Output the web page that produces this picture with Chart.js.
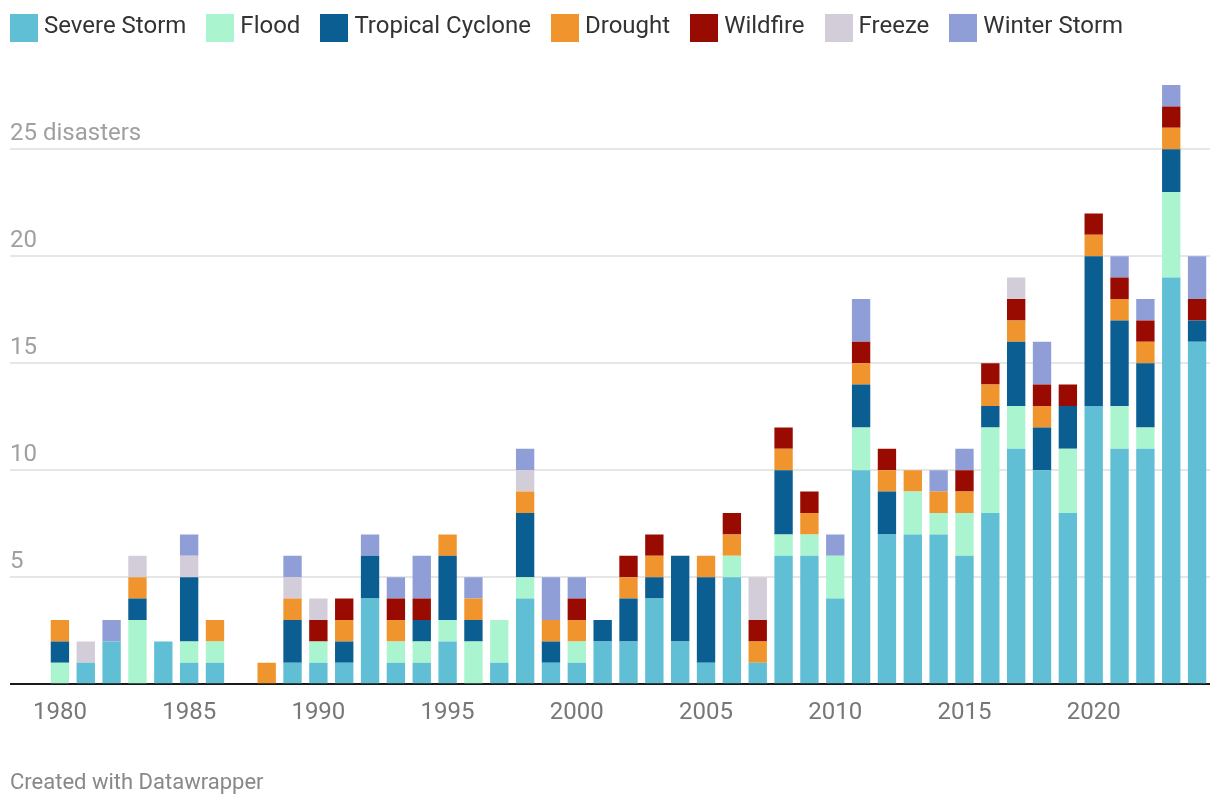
<!DOCTYPE html>
<html>
<head>
<meta charset="utf-8">
<script src="https://cdn.jsdelivr.net/npm/chart.js@4.4.1/dist/chart.umd.min.js"></script>
<style>
  html, body { margin: 0; padding: 0; background: #fff; }
  #wrap { position: relative; width: 1220px; height: 808px; overflow: hidden; font-family: Roboto, "Noto Sans", sans-serif; }
  #chart { position: absolute; left: 0; top: 0; }
  #legend { position: absolute; left: 10px; top: 0; display: flex; }
  .item { display: flex; align-items: flex-start; margin-right: 20px; }
  .box { width: 28px; height: 28px; margin-top: 14px; margin-right: 6px; }
  .lbl { font-size: 24px; line-height: 28px; margin-top: 11px; color: #333; white-space: nowrap; }
  #credit { position: absolute; left: 10px; top: 768px; font-size: 22px; line-height: 28px; color: #888; }
</style>
</head>
<body>
<div id="wrap">
  <canvas id="chart" width="1220" height="808"></canvas>
  <div id="legend"></div>
  <div id="credit">Created with Datawrapper</div>
</div>
<script>
const years = [];
for (let y = 1980; y <= 2024; y++) years.push(String(y));

const seriesNames = ["Severe Storm", "Flood", "Tropical Cyclone", "Drought", "Wildfire", "Freeze", "Winter Storm"];
const seriesColors = ["#60bed5", "#aaf5cf", "#0a5e92", "#f0952d", "#990b00", "#d2cdd9", "#909ed8"];

const severeStorm = [0,1,2,0,2,1,1,0,0,1, 1,1,4,1,1,2,0,1,4,1, 1,2,2,4,2,1,5,1,6,6, 4,10,7,7,7,6,8,11,10,8, 13,11,11,19,16];
const flood =       [1,0,0,3,0,1,1,0,0,0, 1,0,0,1,1,1,2,2,1,0, 1,0,0,0,0,0,1,0,1,1, 2,2,0,2,1,2,4,2,0,3, 0,2,1,4,0];
const tropicalCyclone = [1,0,0,1,0,3,0,0,0,2, 0,1,2,0,1,3,1,0,3,1, 0,1,2,1,4,4,0,0,3,0, 0,2,2,0,0,0,1,3,2,2, 7,4,3,2,1];
const drought =     [1,0,0,1,0,0,1,0,1,1, 0,1,0,1,0,1,1,0,1,1, 1,0,1,1,0,1,1,1,1,1, 0,1,1,1,1,1,1,1,1,0, 1,1,1,1,0];
const wildfire =    [0,0,0,0,0,0,0,0,0,0, 1,1,0,1,1,0,0,0,0,0, 1,0,1,1,0,0,1,1,1,1, 0,1,1,0,0,1,1,1,1,1, 1,1,1,1,1];
const freeze =      [0,1,0,1,0,1,0,0,0,1, 1,0,0,0,0,0,0,0,1,0, 0,0,0,0,0,0,0,2,0,0, 0,0,0,0,0,0,0,1,0,0, 0,0,0,0,0];
const winterStorm = [0,0,1,0,0,1,0,0,0,1, 0,0,1,1,2,0,1,0,1,2, 1,0,0,0,0,0,0,0,0,0, 1,2,0,0,1,1,0,0,2,0, 0,1,1,1,2];

const yTicks = [0, 5, 10, 15, 20, 25];
const yTickLabels = ["", "5", "10", "15", "20", "25 disasters"];
const yMax = 28;

const seriesValues = [severeStorm, flood, tropicalCyclone, drought, wildfire, freeze, winterStorm];

// HTML legend built from series arrays
const legend = document.getElementById('legend');
seriesNames.forEach((n, i) => {
  const it = document.createElement('div'); it.className = 'item';
  const b = document.createElement('div'); b.className = 'box'; b.style.background = seriesColors[i];
  const t = document.createElement('div'); t.className = 'lbl'; t.textContent = n;
  it.appendChild(b); it.appendChild(t); legend.appendChild(it);
});

const datasets = seriesNames.map((n, i) => ({
  label: n,
  data: seriesValues[i],
  backgroundColor: seriesColors[i],
  borderWidth: 0,
  categoryPercentage: 1.0,
  barPercentage: 0.71
}));

new Chart(document.getElementById('chart'), {
  type: 'bar',
  data: { labels: years, datasets },
  options: {
    responsive: false,
    animation: false,
    devicePixelRatio: 1,
    layout: { padding: { top: 85, left: 10, right: 10, bottom: 67 } },
    plugins: { legend: { display: false }, tooltip: { enabled: false } },
    scales: {
      x: {
        stacked: true,
        grid: { display: false, drawTicks: false },
        border: { display: false },
        ticks: {
          autoSkip: false,
          maxRotation: 0,
          padding: 14,
          color: '#777',
          font: { family: 'Roboto', size: 24 },
          callback: function(v, i) { const y = years[i]; return (+y % 5 === 0) ? y : ''; }
        }
      },
      y: {
        stacked: true,
        min: 0,
        max: yMax,
        afterFit: s => { s.width = 37; },
        afterBuildTicks: s => { s.ticks = yTicks.map(v => ({ value: v })); },
        border: { display: false },
        grid: {
          drawTicks: true,
          tickLength: 37,
          color: c => (c.tick && c.tick.value === 0) ? '#1a1a1a' : '#e6e6e6',
          lineWidth: 2
        },
        ticks: {
          includeBounds: false,
          stepSize: 5,
          mirror: true,
          labelOffset: -15,
          padding: -37,
          color: '#a0a0a0',
          font: { family: 'Roboto', size: 24 },
          callback: v => { const k = yTicks.indexOf(v); return k >= 0 ? yTickLabels[k] : ''; }
        }
      }
    }
  }
});
</script>
</body>
</html>
